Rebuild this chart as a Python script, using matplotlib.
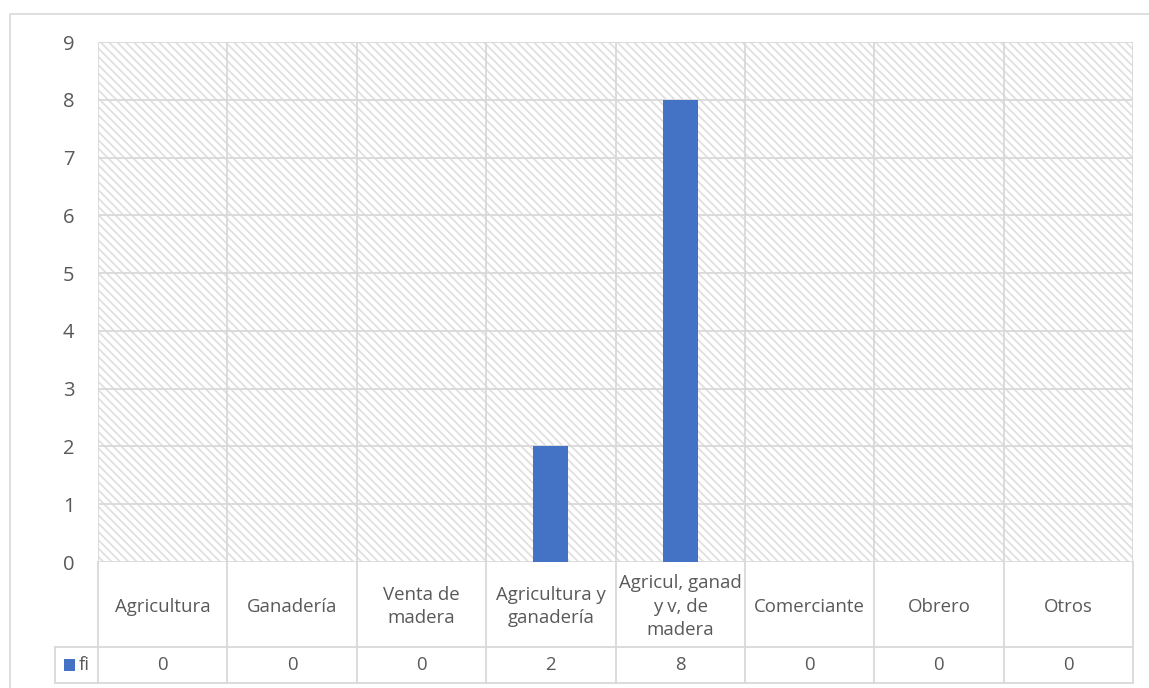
import matplotlib
matplotlib.use("Agg")
import matplotlib.pyplot as plt
from matplotlib.patches import Rectangle

categories = ["Agricultura", "Ganadería", "Venta de\nmadera", "Agricultura y\nganadería",
              "Agricul, ganad\ny v, de\nmadera", "Comerciante", "Obrero", "Otros"]
fi = [0, 0, 0, 2, 8, 0, 0, 0]
series_name = "fi"
yticks = list(range(0, 10))

W, H = 1149, 688
plt.rcParams['font.family'] = ['Open Sans', 'DejaVu Sans']
plt.rcParams['hatch.color'] = '#e0e0e0'
plt.rcParams['hatch.linewidth'] = 1.3
TXT = '#595959'
GRID = '#d9d9d9'
BAR = '#4472C4'
FS = 13.4
FSY = 14.5

fig = plt.figure(figsize=(W / 100, H / 100), dpi=100)

def fx(px):
    return px / W

def fy(py):
    return 1 - py / H

# outer chart border
fig.patches.append(Rectangle((fx(9.5), fy(700)), fx(1160 - 9.5), fy(13.5) - fy(700),
                             transform=fig.transFigure, fill=False, edgecolor=GRID, lw=1.2))

x0, x1, yt, yb = 98, 1133, 42, 562
ax = fig.add_axes([fx(x0), fy(yb), fx(x1 - x0), fy(yt) - fy(yb)])
n = len(categories)
ax.set_xlim(-0.5, n - 0.5)
ax.set_ylim(0, 9)

# hatched background
ax.add_patch(Rectangle((0, 0), 1, 1, transform=ax.transAxes, facecolor='white',
                       hatch='\\\\\\\\', edgecolor='#e0e0e0', lw=0, zorder=0))
for y in yticks:
    ax.axhline(y, color=GRID, lw=1.3, zorder=1)
for i in range(n + 1):
    ax.axvline(i - 0.5, color=GRID, lw=1.3, zorder=1)

ax.bar(range(n), fi, width=0.27, color=BAR, zorder=3)

ax.set_yticks(yticks)
ax.set_yticklabels([str(v) for v in yticks], fontsize=FSY, color=TXT)
ax.tick_params(axis='y', length=0, pad=17)
ax.set_xticks([])
for s in ax.spines.values():
    s.set_visible(False)
ax.set_facecolor('none')

# data table
ty0, ty1, ty2 = 562, 647, 683
tab = fig.add_axes([fx(x0), fy(ty2), fx(x1 - x0), fy(ty0) - fy(ty2)])
tab.set_xlim(-0.5, n - 0.5)
tab.set_ylim(ty2, ty0)
tab.axis('off')
for i in range(n + 1):
    tab.plot([i - 0.5, i - 0.5], [ty0, ty2], color=GRID, lw=1.3, clip_on=False)
for y in [ty1, ty2]:
    tab.plot([-0.5 - 43 / 129.4, n - 0.5], [y, y], color=GRID, lw=1.3, clip_on=False)
tab.plot([-0.5 - 43 / 129.4] * 2, [ty1, ty2], color=GRID, lw=1.3, clip_on=False)
for i, (c, v) in enumerate(zip(categories, fi)):
    tab.text(i, (ty0 + ty1) / 2 + 2, c, ha='center', va='center', fontsize=FS, color=TXT,
             linespacing=1.38)
    tab.text(i, (ty1 + ty2) / 2, str(v), ha='center', va='center', fontsize=FS, color=TXT)
# legend key
kx = -0.5 - 34 / 129.4
tab.add_patch(Rectangle((kx, 659), 11 / 129.4, 12, facecolor=BAR, edgecolor='none', clip_on=False))
tab.text(kx + 15 / 129.4, (ty1 + ty2) / 2, series_name, ha='left', va='center', fontsize=FS, color=TXT)

fig.savefig('out.png', dpi=100, facecolor='white')
